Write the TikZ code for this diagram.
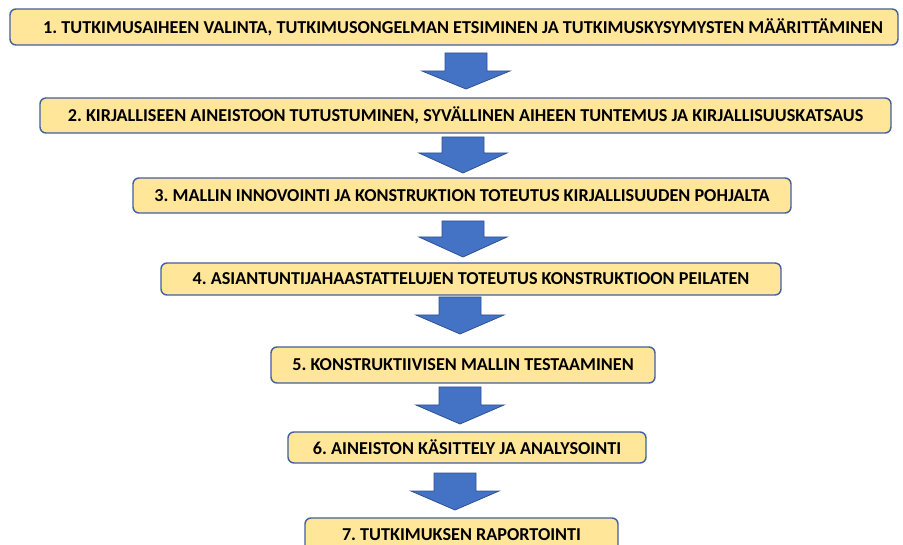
\documentclass[tikz,border=0pt]{standalone}
\usepackage{fontspec}
\setmainfont{Carlito}
\frenchspacing
\begin{document}
\begin{tikzpicture}[x=1pt,y=-1pt,
  stepbox/.style={draw=boxblue,line width=1.4pt,fill=boxfill,rounded corners=6pt,
    minimum height=35pt,inner sep=0pt,font=\fontsize{18.2}{20}\selectfont\bfseries,text=black},
  blockarrow/.style={draw=arrowedge,line width=0.8pt,fill=arrowfill}]
\definecolor{boxblue}{HTML}{41609C}
\definecolor{boxfill}{HTML}{FFE699}
\definecolor{arrowfill}{HTML}{4472C4}
\definecolor{arrowedge}{HTML}{2F528F}
\useasboundingbox (0,0) rectangle (903,545);
\clip (0,0) rectangle (903,545);
\node[stepbox,minimum width=888pt,minimum height=36pt] (b1) at (454,27) {\hspace*{18pt}1. TUTKIMUSAIHEEN VALINTA, TUTKIMUSONGELMAN ETSIMINEN JA TUTKIMUSKYSYMYSTEN MÄÄRITTÄMINEN};
\node[stepbox,minimum width=851pt] (b2) at (465.5,115.5) {2. KIRJALLISEEN AINEISTOON TUTUSTUMINEN, SYVÄLLINEN AIHEEN TUNTEMUS JA KIRJALLISUUSKATSAUS};
\node[stepbox,minimum width=658pt] (b3) at (462,195.5) {3. MALLIN INNOVOINTI JA KONSTRUKTION TOTEUTUS KIRJALLISUUDEN POHJALTA};
\node[stepbox,minimum width=620pt,minimum height=32pt] (b4) at (471,279) {4. ASIANTUNTIJAHAASTATTELUJEN TOTEUTUS KONSTRUKTIOON PEILATEN};
\node[stepbox,minimum width=384pt,minimum height=36pt] (b5) at (463,365) {5. KONSTRUKTIIVISEN MALLIN TESTAAMINEN};
\node[stepbox,minimum width=358pt,minimum height=31pt] (b6) at (467,447.5) {6. AINEISTON KÄSITTELY JA ANALYSOINTI};
\node[stepbox,minimum width=313pt,minimum height=34pt] (b7) at (461.5,535) {7. TUTKIMUKSEN RAPORTOINTI};
\newcommand{\downarrowshape}[4]{%
  \draw[blockarrow] (#1-21,#2) -- (#1+21,#2) -- (#1+21,#3) -- (#1+44,#3) -- (#1,#4) -- (#1-44,#3) -- (#1-21,#3) -- cycle;}
\downarrowshape{466}{53}{71}{89}
\downarrowshape{463}{137}{153}{173}
\downarrowshape{463}{221}{237}{257}
\downarrowshape{460}{297}{315}{334}
\downarrowshape{460}{387}{405}{424}
\downarrowshape{455}{473}{491}{510}
\end{tikzpicture}
\end{document}
